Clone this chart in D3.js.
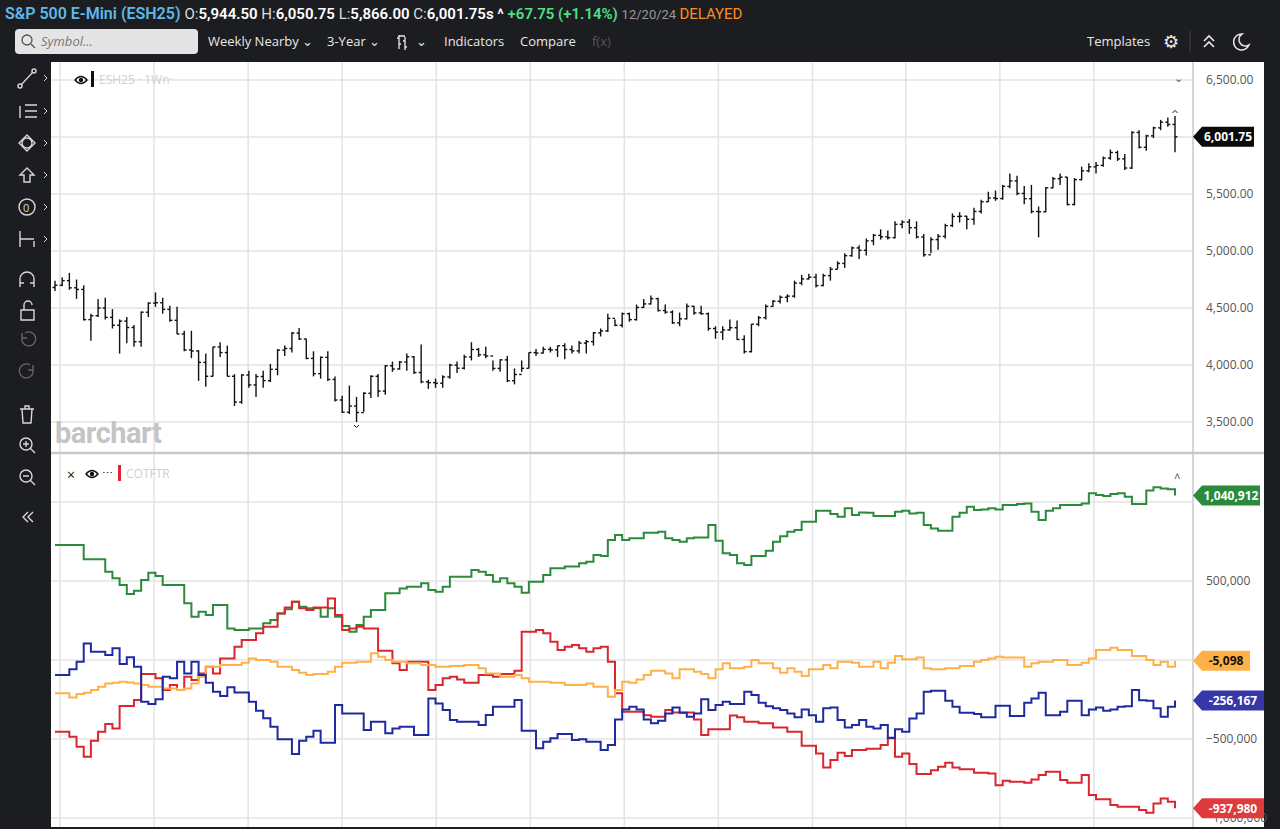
<!DOCTYPE html>
<html><head><meta charset="utf-8">
<script src="https://cdn.jsdelivr.net/npm/d3@7/dist/d3.min.js"></script>
<style>body{margin:0;background:#1c1d21;overflow:hidden}svg{display:block;font-family:"Open Sans",sans-serif}</style>
</head><body><svg id="c" width="1280" height="829"></svg>
<script>
// ---- data ----
const firstOpen = 4680;
const closes = [4700,4740,
4677,4663,4398,4432,4500,4418,4349,4385,4329,4204,4463,4543,4546,4488,4392,4272,4132,4123,4023,3901,4158,4109,3901,3675,3912,3825,3899,3863,3962,4130,4145,4280,4228,4058,3924,4067,3873,3693,3586,3640,3583,3752,3901,3771,3993,3965,4026,4072,3934,3852,3845,3840,
3895,3999,3972,4071,4136,4090,4079,3970,4045,3862,3917,3971,4109,4105,4137,4133,4169,4136,4124,4192,4205,4282,4299,4409,4348,4450,4398,4505,4536,4582,4478,4464,4370,4405,4515,4457,4450,4320,4288,4308,4327,4224,4117,4358,4415,4514,4559,4594,4604,4719,4755,4770,
4697,4784,4840,4891,4959,5027,5006,5089,5137,5124,5117,5234,5254,5204,5123,4967,5100,5128,5223,5303,5305,5278,5347,5432,5465,5460,5567,5615,5505,5459,5346,5344,5554,5634,5648,5408,5626,5703,5738,5751,5815,5864,5808,5728,6040,5910,6010,6080,6130,6110,6001.75];
const highs = [4740,4770,4808,4750,4700,4450,4580,4590,4490,4400,4420,4350,4470,4550,4637,4590,4520,4510,4300,4300,4130,4100,4160,4200,4170,3920,3920,3950,3920,3950,4010,4140,4170,4290,4325,4230,4120,4075,4120,3900,3730,3820,3720,3760,3910,3920,4000,4030,4035,4100,4080,4180,3870,3880,
3910,4010,4030,4090,4200,4150,4160,4040,4050,4080,3970,4040,4110,4140,4160,4160,4170,4190,4170,4210,4220,4290,4320,4450,4400,4460,4460,4530,4580,4610,4590,4530,4480,4460,4540,4520,4520,4460,4340,4340,4400,4390,4260,4360,4430,4530,4570,4610,4620,4740,4790,4800,
4800,4800,4860,4910,4980,5040,5050,5110,5150,5190,5180,5260,5270,5280,5260,5150,5120,5150,5240,5330,5340,5310,5380,5450,5520,5530,5580,5680,5660,5570,5580,5390,5560,5650,5680,5650,5640,5740,5770,5780,5830,5890,5880,5850,6050,6060,6020,6090,6150,6170,6185];
const lows = [4650,4690,4660,4580,4390,4212,4420,4400,4320,4100,4190,4160,4160,4420,4510,4450,4380,4270,4120,4060,3860,3810,3900,4070,3900,3640,3660,3800,3720,3800,3850,3910,4080,4110,4220,4050,3900,3880,3860,3680,3580,3570,3500,3590,3710,3720,3740,3940,3960,3950,3920,3840,3790,3800,
3800,3880,3930,3960,4040,4070,4060,3950,3940,3850,3830,3940,3970,4080,4100,4110,4070,4050,4100,4100,4100,4170,4250,4290,4340,4330,4380,4390,4500,4530,4470,4450,4360,4340,4400,4440,4440,4300,4230,4220,4300,4220,4100,4110,4340,4400,4510,4540,4550,4590,4700,4750,
4680,4690,4740,4840,4850,4950,4930,4960,5050,5100,5100,5110,5200,5150,5110,4950,4980,5010,5110,5210,5250,5190,5230,5330,5430,5440,5450,5550,5490,5410,5330,5120,5340,5550,5580,5400,5400,5620,5690,5680,5740,5800,5790,5710,5720,5900,5880,5990,6060,6090,5866];
const green = [728,728,728,728,637,637,637,559,517,475,418,439,506,553,532,475,475,475,359,274,306,285,348,348,200,190,190,200,200,232,253,295,321,369,337,327,327,274,327,274,215,179,221,274,316,316,422,422,453,464,464,485,443,432,464,527,527,527,570,559,538,496,517,485,464,426,496,496,538,580,580,591,591,612,622,664,
658,759,791,759,770,770,806,806,812,770,759,749,770,776,776,854,755,675,664,612,601,658,658,692,749,784,812,823,875,875,945,945,924,907,960,917,934,932,911,911,911,939,945,928,932,854,833,818,818,907,932,970,949,953,960,953,981,981,987,991,939,886,945,960,981,981,981,991,1055,1044,1038,1050,1055,1034,987,987,1072,1093,1086,1080,1040.912];
const red = [-454,-454,-486,-549,-612,-511,-454,-405,-433,-291,-291,-253,-89,-89,-116,-190,-158,-190,-106,-127,-85,-42,-85,10,10,84,126,126,169,211,211,295,333,369,327,316,333,333,390,285,190,200,211,200,200,59,59,-21,-64,-11,-11,-11,-190,-158,-116,-106,-123,-144,-144,-95,-95,-106,-89,-89,-68,179,179,190,169,116,63,84,95,74,53,74,
84,-11,-211,-327,-327,-327,-349,-359,-359,-317,-332,-332,-332,-376,-475,-439,-439,-439,-351,-363,-391,-391,-401,-401,-427,-427,-454,-454,-543,-543,-591,-680,-633,-587,-608,-570,-570,-562,-562,-538,-496,-612,-591,-659,-722,-722,-697,-676,-650,-680,-692,-692,-714,-714,-718,-792,-764,-771,-771,-777,-756,-728,-707,-707,-760,-777,-777,-728,-855,-882,-882,-918,-929,-929,-929,-950,-967,-908,-876,-897,-937.98];
const orange = [-211,-211,-237,-215,-207,-190,-169,-148,-144,-137,-142,-148,-158,-169,-169,-180,-180,-190,-180,-148,-106,-42,-42,-32,-32,-32,-17,10,0,0,-11,-42,-42,-64,-80,-95,-89,-89,-74,-42,-17,-17,-11,-11,42,21,0,-11,-11,-21,-21,-32,-32,-42,-42,-38,-38,-32,-32,-53,-85,-85,-106,-106,-95,-116,-137,-137,-137,-144,-144,-158,-158,-158,-148,-169,
-169,-233,-190,-138,-144,-123,-95,-68,-68,-85,-116,-59,-59,-74,-89,-116,-59,-21,-53,-53,-43,0,-21,-21,-53,-81,-53,-74,-102,-59,-59,-32,-53,-11,-11,-17,-43,-43,-11,-53,-17,25,4,4,16,-53,-59,-59,-53,-53,-38,-38,-11,0,10,21,16,16,16,-43,-21,-11,-11,0,0,-32,-32,-17,10,63,63,78,63,63,25,25,0,-32,-11,-43,-5.098];
const blue = [-95,-95,-59,-11,105,53,53,31,74,-26,17,-42,-264,-279,-249,-106,-116,-11,-85,-11,-95,-144,-201,-228,-173,-205,-205,-264,-321,-369,-422,-502,-502,-595,-511,-486,-448,-523,-523,-285,-338,-338,-338,-443,-391,-391,-464,-433,-422,-422,-475,-475,-243,-275,-317,-380,-391,-391,-391,-412,-348,-296,-296,-296,-253,-448,-448,-559,-517,-496,-469,-469,-507,-502,-517,-517,
-570,-538,-376,-313,-296,-313,-376,-401,-384,-338,-300,-334,-359,-338,-249,-317,-285,-264,-279,-279,-201,-222,-270,-292,-306,-317,-338,-363,-313,-349,-391,-306,-300,-380,-427,-412,-380,-422,-433,-412,-492,-439,-454,-370,-338,-201,-195,-195,-258,-296,-334,-334,-342,-363,-363,-289,-289,-355,-355,-270,-243,-207,-349,-349,-327,-258,-258,-349,-313,-300,-321,-313,-296,-292,-190,-254,-258,-306,-359,-296,-256.167];
const priceTicks = [3500,4000,4500,5000,5500,6000,6500];
const cotTicks = [-1000000,-500000,0,500000,1000000];
const cotTickLabels = [-1000000,-500000,500000];
const quarterWeeks = [0.7,13.8,26.9,40,53.1,66.2,79.3,92.4,105.5,118.5,131.6,144.7];
const series = [
  {name:"green", vals:green, color:"#2b8a3b", label:"1,040,912", text:"#fff"},
  {name:"red", vals:red, color:"#d9262f", label:"-937,980", text:"#fff"},
  {name:"orange", vals:orange, color:"#ffb048", label:"-5,098", text:"#111"},
  {name:"blue", vals:blue, color:"#1f2a9e", label:"-256,167", text:"#fff"}];

// ---- drawing ----
const svg = d3.select("#c");
const PL=51, PR=1264, PT=62, PB=827, AX=1193;
const x = d3.scaleLinear().domain([0,156]).range([55,1175]);
const yP = d3.scaleLinear().domain([3500,6500]).range([422,80]);
const yC = d3.scaleLinear().domain([-1000000,1000000]).range([818,502]);

// header
const h = svg.append("g");
const t1 = h.append("text").attr("x",5).attr("y",19).attr("font-size",16).attr("font-family","Roboto, sans-serif");
t1.append("tspan").attr("fill","#5db9ec").attr("font-weight",600).text("S&P 500 E-Mini (ESH25) ");
const hdr=[["O:","#ddd",400],["5,944.50 ","#fff",600],["H:","#ddd",400],["6,050.75 ","#fff",600],["L:","#ddd",400],["5,866.00 ","#fff",600],["C:","#ddd",400],["6,001.75s ^ ","#fff",600],["+67.75 (+1.14%) ","#4ee08a",600]];
hdr.forEach(d=>t1.append("tspan").attr("fill",d[1]).attr("font-weight",d[2]).attr("font-size",15).text(d[0]));
t1.append("tspan").attr("fill","#999").attr("font-size",13).text("12/20/24 ");
t1.append("tspan").attr("fill","#ff8c1f").attr("font-size",15).text("DELAYED");
h.append("rect").attr("x",15).attr("y",29).attr("width",183).attr("height",25).attr("rx",4).attr("fill","#e4e4e4");
h.append("circle").attr("cx",27).attr("cy",40).attr("r",5).attr("fill","none").attr("stroke","#555").attr("stroke-width",1.3);
h.append("line").attr("x1",31).attr("y1",44).attr("x2",35).attr("y2",48).attr("stroke","#555").attr("stroke-width",1.3);
h.append("text").attr("x",41).attr("y",46).attr("font-size",13).attr("font-style","italic").attr("fill","#777").text("Symbol...");
[["Weekly Nearby ⌄",208],["3-Year ⌄",327],["⌄",416],["Indicators",444],["Compare",520]].forEach(d=>
  h.append("text").attr("x",d[1]).attr("y",46).attr("font-size",13).attr("fill","#e8e8e8").text(d[0]));
h.append("path").attr("d","M399,35 v14 M399,38 h-2 M399,44 h2 M405,37 v13 M405,41 h-2 M405,47 h2 M399,36 h6").attr("fill","none").attr("stroke","#e8e8e8").attr("stroke-width",1.3);
h.append("text").attr("x",592).attr("y",46).attr("font-size",13).attr("fill","#555").text("f(x)");
h.append("text").attr("x",1087).attr("y",46).attr("font-size",13).attr("fill","#e8e8e8").text("Templates");
h.append("text").attr("x",1163).attr("y",48).attr("font-size",18).attr("fill","#e8e8e8").text("⚙");
h.append("line").attr("x1",1190).attr("x2",1190).attr("y1",31).attr("y2",52).attr("stroke","#444");
h.append("path").attr("d","M1204,41 l5,-5 l5,5 M1204,47 l5,-5 l5,5").attr("fill","none").attr("stroke","#e8e8e8").attr("stroke-width",1.6);
h.append("path").attr("d","M1242,34 a8,8 0 1,0 7,11 a6,6 0 0,1 -7,-11z").attr("fill","none").attr("stroke","#e8e8e8").attr("stroke-width",1.5);

// left toolbar icons
const tb = svg.append("g").attr("fill","none").attr("stroke","#d8d8d8").attr("stroke-width",1.4);
tb.append("path").attr("d","M21,85 L33,72").attr("stroke-width",1.2);tb.append("circle").attr("cx",20).attr("cy",86).attr("r",2);tb.append("circle").attr("cx",34).attr("cy",71).attr("r",2);
tb.append("path").attr("d","M20,118 v-12 M25,105 h12 M25,111 h12 M25,117 h12");
tb.append("path").attr("d","M27,135 l8,8 l-8,8 l-8,-8z");tb.append("circle").attr("cx",27).attr("cy",143).attr("r",5);
tb.append("path").attr("d","M27,168 l7,7 h-4 v7 h-6 v-7 h-4z");
tb.append("circle").attr("cx",27).attr("cy",207).attr("r",8);svg.append("text").attr("x",23).attr("y",212).attr("font-size",11).attr("fill","#d8d8d8").text("0");
tb.append("path").attr("d","M20,247 v-16 M20,239 h14 M34,247 v-6");
tb.append("path").attr("d","M20,287 v-8 a7,7 0 0,1 14,0 v8 M20,283 h4 M30,283 h4");
tb.append("path").attr("d","M21,310 h13 v10 h-13z M24,310 v-5 a4,4 0 0,1 8,0");
tb.append("path").attr("d","M22,337 a7,7 0 1,0 3,-4 M22,333 v5 h5").attr("stroke","#666");
tb.append("path").attr("d","M33,369 a7,7 0 1,1 -3,-4 M33,365 v5 h-5").attr("stroke","#666");
tb.append("path").attr("d","M20,409 h14 M25,409 v-3 h4 v3 M22,409 l1,14 h8 l1,-14");
tb.append("circle").attr("cx",26).attr("cy",444).attr("r",6);tb.append("path").attr("d","M30,448 l5,5 M23,444 h6 M26,441 v6");
tb.append("circle").attr("cx",26).attr("cy",476).attr("r",6);tb.append("path").attr("d","M30,480 l5,5 M23,476 h6");
tb.append("path").attr("d","M28,512 l-5,5 l5,5 M33,512 l-5,5 l5,5");
[78,111,143,175,207,239].forEach(y=>tb.append("path").attr("d",`M44,${y-3} l3,3 l-3,3`).attr("stroke-width",1));

// plot area
svg.append("rect").attr("x",PL).attr("y",PT).attr("width",PR-PL).attr("height",PB-PT).attr("fill","#fff");
const grid = svg.append("g").attr("stroke","#e3e3e3").attr("stroke-width",1.5);
quarterWeeks.forEach(w=>grid.append("line").attr("x1",x(w)).attr("x2",x(w)).attr("y1",PT).attr("y2",PB));
priceTicks.forEach(p=>grid.append("line").attr("x1",PL).attr("x2",AX).attr("y1",yP(p)).attr("y2",yP(p)));
cotTicks.forEach(p=>grid.append("line").attr("x1",PL).attr("x2",AX).attr("y1",yC(p)).attr("y2",yC(p)));
svg.append("line").attr("x1",AX).attr("x2",AX).attr("y1",PT).attr("y2",PB).attr("stroke","#d6d6d6").attr("stroke-width",2);
svg.append("line").attr("x1",PL).attr("x2",PR).attr("y1",453).attr("y2",453).attr("stroke","#c8c8c8").attr("stroke-width",2.5);

// watermark
svg.append("text").attr("x",55).attr("y",443).attr("font-size",29).attr("font-weight",700).attr("fill","#c4c4c4").attr("font-family","Roboto, sans-serif").attr("letter-spacing",-0.5).text("barchart");

// axes
const axP = d3.axisRight(yP).tickValues(priceTicks.filter(d=>d!==6000)).tickSize(0).tickFormat(d3.format(",.2f"));
svg.append("g").attr("transform",`translate(${AX+10},0)`).call(axP).call(g=>{g.select(".domain").remove();g.selectAll("text").attr("font-size",12).attr("fill","#555").attr("font-family","Open Sans, sans-serif");});
const axC = d3.axisRight(yC).tickValues(cotTickLabels).tickSize(0).tickFormat(d3.format(","));
svg.append("g").attr("transform",`translate(${AX+10},0)`).call(axC).call(g=>{g.select(".domain").remove();g.selectAll("text").attr("font-size",12).attr("fill","#555").attr("font-family","Open Sans, sans-serif");});

// OHLC bars
const bars = svg.append("g").attr("stroke","#111").attr("stroke-width",1.4);
closes.forEach((c,i)=>{
  const o = i===0?firstOpen:closes[i-1];
  const xi = x(i);
  bars.append("line").attr("x1",xi).attr("x2",xi).attr("y1",yP(highs[i])).attr("y2",yP(lows[i]));
  bars.append("line").attr("x1",xi-2.5).attr("x2",xi).attr("y1",yP(o)).attr("y2",yP(o));
  bars.append("line").attr("x1",xi).attr("x2",xi+2.5).attr("y1",yP(c)).attr("y2",yP(c));
});
const hiI = d3.maxIndex(highs), loI = d3.minIndex(lows);
svg.append("path").attr("d",`M${x(hiI)-2.5},${yP(highs[hiI])-3} l2.5,-2.5 l2.5,2.5`).attr("fill","none").attr("stroke","#111");
svg.append("path").attr("d",`M${x(loI)-2.5},${yP(lows[loI])+3} l2.5,2.5 l2.5,-2.5`).attr("fill","none").attr("stroke","#111");

// COT step lines
const line = d3.line().x((d,i)=>x(i)).y(d=>yC(d*1000)).curve(d3.curveStepAfter);
series.forEach(s=>svg.append("path").datum(s.vals).attr("d",line).attr("fill","none").attr("stroke",s.color).attr("stroke-width",2));

// value labels
function tag(y,txt,fill,tc,w){
  const g=svg.append("g");
  g.append("path").attr("d",`M${AX},${y} l9,-10 h${w} v20 h-${w} z`).attr("fill",fill);
  g.append("text").attr("x",AX+9+w/2).attr("y",y+4.5).attr("text-anchor","middle").attr("font-size",12).attr("font-weight",700).attr("fill",tc).text(txt);
}
tag(yP(closes[closes.length-1]),"6,001.75","#0b0b0b","#fff",52);
tag(yC(green[green.length-1]*1000),series[0].label,series[0].color,"#fff",58);
tag(yC(orange[orange.length-1]*1000),series[2].label,series[2].color,"#111",48);
tag(yC(blue[blue.length-1]*1000),series[3].label,"#3737a8","#fff",62);
tag(yC(red[red.length-1]*1000),series[1].label,"#df3a3e","#fff",62);

// panel labels
const eye=(cx,cy)=>{svg.append("path").attr("d",`M${cx-6},${cy} q6,-7 12,0 q-6,7 -12,0z`).attr("fill","none").attr("stroke","#111").attr("stroke-width",1.4);svg.append("circle").attr("cx",cx).attr("cy",cy).attr("r",2.2).attr("fill","#111");};
eye(81,80);
svg.append("rect").attr("x",91).attr("y",71).attr("width",3).attr("height",16).attr("fill","#111");
svg.append("text").attr("x",99).attr("y",84).attr("font-size",12).attr("fill","#d0d0d0").text("ESH25 · 1Wn·");
svg.append("text").attr("x",1174).attr("y",82).attr("font-size",11).attr("fill","#555").text("⌄");
svg.append("text").attr("x",67).attr("y",480).attr("font-size",14).attr("fill","#111").text("×");
eye(92,474);
svg.append("text").attr("x",102).attr("y",477).attr("font-size",11).attr("fill","#111").text("⋯");
svg.append("rect").attr("x",118).attr("y",465).attr("width",3).attr("height",16).attr("fill","#d9262f");
svg.append("text").attr("x",126).attr("y",478).attr("font-size",12).attr("fill","#d0d0d0").text("COTFTR");
svg.append("text").attr("x",1174).attr("y",480).attr("font-size",11).attr("fill","#555").text("˄");
</script></body></html>
